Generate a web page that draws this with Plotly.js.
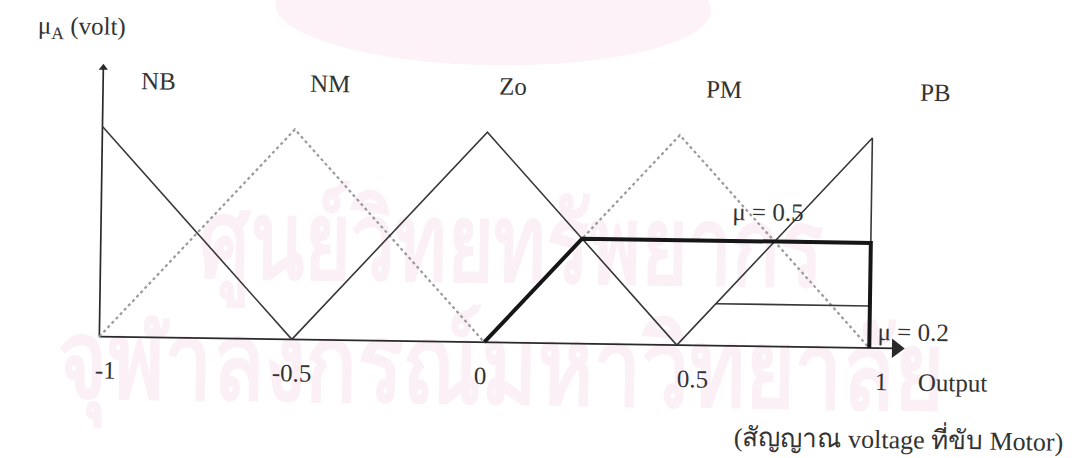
<!DOCTYPE html>
<html>
<head>
<meta charset="utf-8">
<script src="https://cdn.plot.ly/plotly-3.0.1.min.js"></script>
<style>
  html, body { margin: 0; padding: 0; background: #fff; overflow: hidden; }
  #page { position: relative; width: 1072px; height: 458px; transform: rotate(0.85deg); transform-origin: 536px 229px; }
  #seal { position: absolute; left: 272px; top: -50px; width: 436px; height: 116px; border-radius: 50%; background: #fdf2f7; }
  .wm { position: absolute; color: #faf0f6; font-family: "Noto Sans", "DejaVu Sans", sans-serif; font-weight: bold; white-space: nowrap; line-height: 1; transform-origin: 0 0; }
  #wm1 { left: 200px; top: 184px; font-size: 110px; transform: scaleX(0.72); }
  #wm2 { left: 60px; top: 306px; font-size: 110px; transform: scaleX(0.77); }
  #chart { position: absolute; left: 0; top: 0; width: 1072px; height: 458px; }
</style>
</head>
<body>
<div id="page">
  <div id="seal"></div>
  <div class="wm" id="wm1">ศูนย์วิทยทรัพยากร</div>
  <div class="wm" id="wm2">จุฬาลงกรณ์มหาวิทยาลัย</div>
  <div id="chart"></div>
</div>
<script>
// Fuzzy output sets (triangular membership functions)
const setNames = ['NB', 'NM', 'Zo', 'PM', 'PB'];
const nbX = [-1, -0.5];       const nbMu = [1, 0];
const nmX = [-1, -0.5, 0];    const nmMu = [0, 1, 0];
const zoX = [-0.5, 0, 0.5];   const zoMu = [0, 1, 0];
const pmX = [0, 0.5, 1];      const pmMu = [0, 1, 0];
const pbX = [0.5, 1, 1];      const pbMu = [0, 1, 0];
const setPeaks = [-1, -0.5, 0, 0.5, 1];

// Firing strengths that clip PM and PB
const pmCut = 0.5;
const pbCut = 0.2;

// Output axis ticks
const tickVals = [-1, -0.5, 0, 0.5, 1];
const tickText = ['-1', '-0.5', '0', '0.5', '1'];

const serif = '"Liberation Serif", "Times New Roman", serif';
const ink = '#333333';
const axisInk = '#2a2a2a';

function line(x, y, style) {
  return Object.assign({ type: 'scatter', mode: 'lines', x: x, y: y, hoverinfo: 'skip', showlegend: false }, style);
}

const thin = { line: { color: '#383838', width: 1.6 } };
const dotted = { line: { color: '#9a9a9a', width: 2.2, dash: 'dot' } };

// clipped PM (bold) and clipped PB (thin) outlines
const pmCutX = pmX[0] + pmCut * (pmX[1] - pmX[0]);
const pbCutX = pbX[0] + pbCut * (pbX[1] - pbX[0]);
const boldX = [pmX[0], pmCutX, pmX[2], pmX[2]];
const boldY = [0, pmCut, pmCut, 0];

// axis extents (output axis runs past 1, membership axis past 1)
const xAxisEnd = 1.07;
const yAxisEnd = 1.28;

const traces = [
  // axes
  line([-1, xAxisEnd], [0, 0], { line: { color: axisInk, width: 1.7 } }),
  line([-1, -1], [0, yAxisEnd], { line: { color: axisInk, width: 1.7 } }),
  { type: 'scatter', mode: 'markers', x: [xAxisEnd], y: [0], hoverinfo: 'skip', showlegend: false,
    marker: { symbol: 'triangle-right', size: 17, color: axisInk, line: { width: 0 } } },
  { type: 'scatter', mode: 'markers', x: [-1], y: [yAxisEnd], hoverinfo: 'skip', showlegend: false,
    marker: { symbol: 'triangle-up', size: 8, color: axisInk, line: { width: 0 } } },
  // membership functions
  line(nmX, nmMu, dotted),
  line(pmX, pmMu, dotted),
  line(nbX, nbMu, thin),
  line(zoX, zoMu, thin),
  line(pbX, pbMu, thin),
  line([pbCutX, pbX[1]], [pbCut, pbCut], thin),
  line(boldX, boldY, { line: { color: '#161616', width: 4 } })
];

const annotations = [];
const f = (s) => ({ family: serif, size: s, color: ink });

// set names above each peak
const nameShift = [55, 34, 25, 43, 62];
setNames.forEach((n, i) => {
  annotations.push({ x: setPeaks[i], y: 1.22, xref: 'x', yref: 'y', text: n, showarrow: false,
    xshift: nameShift[i], font: f(25) });
});

// tick labels
const tickShift = [6, 0, -4, 16, 12];
tickVals.forEach((v, i) => {
  annotations.push({ x: v, y: -0.16, xref: 'x', yref: 'y', text: tickText[i], showarrow: false,
    xshift: tickShift[i], font: f(25) });
});

// clip level labels
annotations.push({ x: 0.73, y: pmCut, xref: 'x', yref: 'y', yshift: 30, text: 'μ = ' + pmCut,
  showarrow: false, font: f(25) });
annotations.push({ x: pbX[1], y: pbCut, xref: 'x', yref: 'y', xanchor: 'left', xshift: 6, yshift: -25,
  text: 'μ = ' + pbCut, showarrow: false, font: f(25) });

// axis titles
annotations.push({ x: 1.1, y: -0.16, xref: 'x', yref: 'y', xanchor: 'left', xshift: 8, text: 'Output',
  showarrow: false, font: f(25) });
annotations.push({ x: 1068 / 1072, y: 1 - 432 / 458, xref: 'paper', yref: 'paper', xanchor: 'right', yanchor: 'middle',
  text: '(สัญญาณ voltage ที่ขับ Motor)', showarrow: false, font: f(26) });
annotations.push({ x: 33 / 1072, y: 1 - 34 / 458, xref: 'paper', yref: 'paper', xanchor: 'left', yanchor: 'middle',
  text: 'μ<sub>A</sub> (volt)', showarrow: false, font: f(25) });

const layout = {
  width: 1072, height: 458,
  margin: { l: 0, r: 0, t: 0, b: 0 },
  paper_bgcolor: 'rgba(0,0,0,0)', plot_bgcolor: 'rgba(0,0,0,0)',
  xaxis: { range: [-1 - 101 / 385, 1 + 201 / 385], visible: false, fixedrange: true },
  yaxis: { range: [-115 / 210, 343 / 210], visible: false, fixedrange: true },
  annotations: annotations,
  showlegend: false
};

Plotly.newPlot('chart', traces, layout, { displayModeBar: false, staticPlot: true });
</script>
</body>
</html>
